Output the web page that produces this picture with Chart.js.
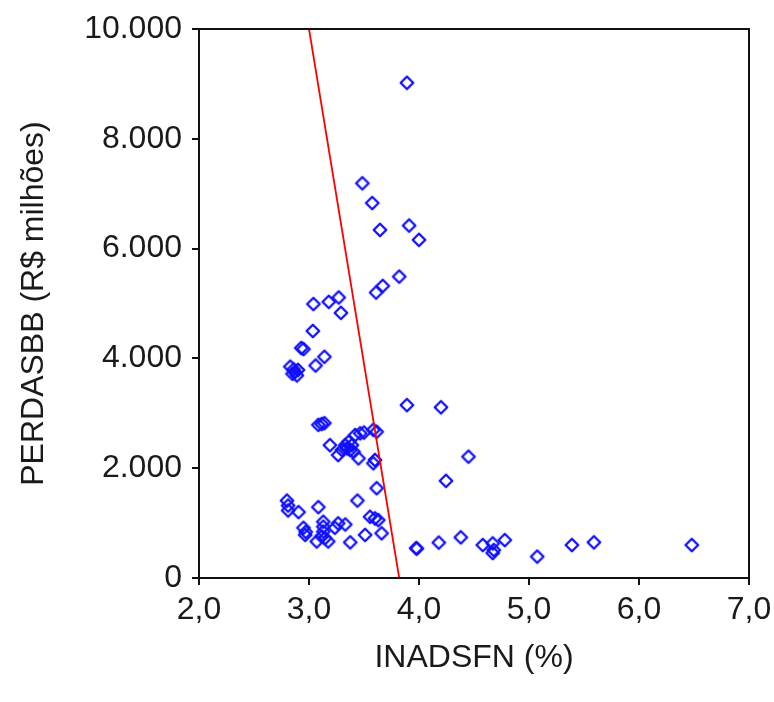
<!DOCTYPE html>
<html>
<head>
<meta charset="utf-8">
<script src="https://cdn.jsdelivr.net/npm/chart.js@4/dist/chart.umd.min.js"></script>
<style>
  html, body { margin: 0; padding: 0; background: #fff; }
  #wrap { width: 774px; height: 702px; }
</style>
</head>
<body>
<div id="wrap"><canvas id="scatter-chart" width="774" height="702"></canvas></div>
<script>
// INADSFN (%) vs PERDASBB (R$ milhões)
const inadsfn = [
  3.89, 3.485, 3.575, 3.645, 3.91, 4.00, 3.82, 3.67, 3.61, 3.04,
  3.18, 3.27, 3.29, 3.035, 2.93, 2.95, 3.14, 3.06, 2.83, 2.86,
  2.87, 2.90, 2.85, 2.89, 3.89, 4.20, 3.085, 3.115, 3.14, 3.585,
  3.615, 3.42, 3.465, 3.50, 3.19, 3.36, 3.33, 3.39, 3.345, 3.375,
  3.30, 3.405, 3.265, 3.45, 3.60, 3.585, 4.45, 4.245, 3.615, 3.44,
  2.80, 2.81, 2.81, 2.905, 3.085, 3.555, 3.60, 3.63, 2.95, 2.97,
  2.965, 3.13, 3.13, 3.13, 3.115, 3.145, 3.07, 3.175, 3.265, 3.33,
  3.235, 3.375, 3.51, 3.66, 3.975, 3.98, 4.18, 4.38, 4.58, 4.67,
  4.68, 4.67, 4.78, 5.075, 5.39, 5.59, 6.48
];
const perdasbb = [
  9020, 7190, 6830, 6340, 6420, 6160, 5490, 5320, 5200, 4990,
  5030, 5110, 4830, 4500, 4190, 4170, 4030, 3870, 3850, 3800,
  3750, 3790, 3720, 3690, 3150, 3110, 2790, 2805, 2820, 2700,
  2665, 2605, 2635, 2650, 2420, 2480, 2420, 2420, 2360, 2330,
  2330, 2300, 2240, 2180, 2150, 2090, 2210, 1770, 1635, 1410,
  1410, 1320, 1230, 1200, 1290, 1115, 1085, 1055, 915, 840,
  785, 1025, 935, 845, 755, 725, 665, 665, 995, 975,
  915, 650, 785, 815, 545, 535, 645, 740, 600, 630,
  510, 455, 690, 390, 600, 650, 600
];

// fitted line (red)
const fitX = [3.0, 3.82];
const fitY = [10000, 0];

const xTicks = [2, 3, 4, 5, 6, 7];
const yTicks = [0, 2000, 4000, 6000, 8000, 10000];

const points = inadsfn.map((x, i) => ({ x, y: perdasbb[i] }));
const fitLine = fitX.map((x, i) => ({ x, y: fitY[i] }));

const fontFamily = '"Liberation Sans", Arial, sans-serif';
const textColor = '#1a1a1a';
const fontSize = 32;

// rounded diamond marker
function makeMarker() {
  const c = document.createElement('canvas');
  c.width = 18;
  c.height = 18;
  const g = c.getContext('2d');
  const r = 6.3;
  g.strokeStyle = '#1010ff';
  g.lineWidth = 2.3;
  g.lineJoin = 'round';
  g.beginPath();
  g.moveTo(9, 9 - r);
  g.lineTo(9 + r, 9);
  g.lineTo(9, 9 + r);
  g.lineTo(9 - r, 9);
  g.closePath();
  g.stroke();
  return c;
}
const marker = makeMarker();

const frame = {
  id: 'frame',
  afterDraw(chart) {
    const { ctx, chartArea: a } = chart;
    ctx.save();
    ctx.strokeStyle = '#111';
    ctx.lineWidth = 2;
    ctx.strokeRect(a.left, a.top, a.right - a.left, a.bottom - a.top);
    ctx.restore();
  }
};

const ctx = document.getElementById('scatter-chart');

new Chart(ctx, {
  type: 'scatter',
  data: {
    datasets: [
      {
        label: 'PERDASBB',
        data: points,
        pointStyle: marker,
        pointRadius: 7,
        borderColor: '#1010ff',
        backgroundColor: 'rgba(0,0,0,0)',
        order: 2
      },
      {
        label: 'fit',
        type: 'line',
        data: fitLine,
        borderColor: '#ff0000',
        borderWidth: 1.8,
        pointRadius: 0,
        fill: false,
        order: 1
      }
    ]
  },
  options: {
    responsive: false,
    animation: false,
    layout: { padding: { top: 29, right: 25, left: 0, bottom: 0 } },
    plugins: {
      legend: { display: false },
      tooltip: { enabled: false }
    },
    scales: {
      x: {
        type: 'linear',
        min: 2,
        max: 7,
        afterBuildTicks: scale => { scale.ticks = xTicks.map(v => ({ value: v })); },
        afterFit: scale => {
          scale.height = 124;
          scale.paddingLeft = 0;
          scale.paddingRight = 0;
        },
        grid: { drawOnChartArea: false, drawTicks: true, tickLength: 7, color: '#111', lineWidth: 2 },
        border: { display: false },
        ticks: {
          padding: 6,
          color: textColor,
          font: { size: fontSize, family: fontFamily },
          callback: v => v.toFixed(1).replace('.', ',')
        },
        title: {
          display: true,
          text: 'INADSFN (%)',
          color: textColor,
          font: { size: fontSize, family: fontFamily },
          padding: { top: 0, bottom: 25 }
        }
      },
      y: {
        type: 'linear',
        min: 0,
        max: 10000,
        afterBuildTicks: scale => { scale.ticks = yTicks.map(v => ({ value: v })); },
        afterFit: scale => {
          scale.width = 199;
          scale.paddingTop = 0;
          scale.paddingBottom = 0;
        },
        grid: { drawOnChartArea: false, drawTicks: true, tickLength: 7, color: '#111', lineWidth: 2 },
        border: { display: false },
        ticks: {
          padding: 10,
          color: textColor,
          font: { size: fontSize, family: fontFamily },
          callback: v => v === 0 ? '0' : String(v).replace(/\B(?=(\d{3})+(?!\d))/g, '.')
        },
        title: {
          display: true,
          text: 'PERDASBB (R$ milhões)',
          color: textColor,
          font: { size: fontSize, family: fontFamily },
          padding: { top: 15, bottom: 0 }
        }
      }
    }
  },
  plugins: [frame]
});
</script>
</body>
</html>
